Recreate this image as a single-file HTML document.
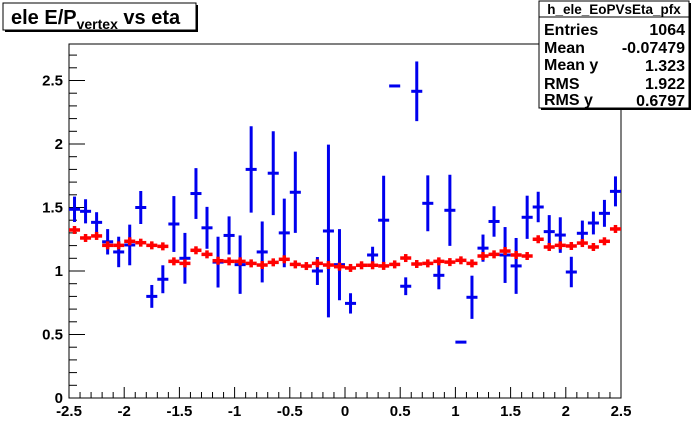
<!DOCTYPE html>
<html><head><meta charset="utf-8"><style>
body{margin:0;background:#fff;}
svg{display:block;font-family:"Liberation Sans",Arial,sans-serif;}
</style></head><body>
<svg id="chart" width="692" height="444" viewBox="0 0 692 444" xmlns="http://www.w3.org/2000/svg">
<rect x="0" y="0" width="692" height="444" fill="#fff"/>
<g id="axes"></g>
<g id="blue"></g>
<g id="red"></g>
<g>
<rect x="5" y="5" width="193" height="27" fill="#000"/>
<rect x="3" y="3" width="193" height="27" fill="#fff" stroke="#000" stroke-width="1"/>
<text x="11" y="24" font-size="20" font-weight="bold">ele E/P<tspan font-size="14" dy="5">vertex</tspan><tspan dy="-5"> vs eta</tspan></text>
</g>
<g>
<rect x="541" y="3" width="150" height="107" fill="#000"/>
<rect x="539" y="1" width="150" height="107" fill="#fff" stroke="#000" stroke-width="1"/>
<line x1="539" y1="17" x2="689" y2="17" stroke="#000"/>
<text x="614" y="14" font-size="13.5" font-weight="bold" text-anchor="middle">h_ele_EoPVsEta_pfx</text>
<g font-size="16" font-weight="bold">
<text x="544" y="35">Entries</text><text x="685" y="35" text-anchor="end">1064</text>
<text x="544" y="53">Mean</text><text x="685" y="53" text-anchor="end">-0.07479</text>
<text x="544" y="70">Mean y</text><text x="685" y="71" text-anchor="end">1.323</text>
<text x="544" y="89">RMS</text><text x="685" y="89" text-anchor="end">1.922</text>
<text x="544" y="105">RMS y</text><text x="685" y="106" text-anchor="end">0.6797</text>
</g>
</g>
</svg>
<script>
const blueVals=[1.486,1.47,1.383,1.23,1.15,1.205,1.5,0.8,0.935,1.37,1.1,1.61,1.34,1.07,1.28,1.05,1.8,1.15,1.77,1.3,1.62,null,1.0,1.315,1.05,0.745,null,1.126,1.4,2.457,0.88,2.415,1.533,0.966,1.478,0.44,0.793,1.18,1.39,1.126,1.04,1.423,1.504,1.31,1.283,0.992,1.297,1.378,1.454,1.627];
const blueErrs=[0.1,0.095,0.08,0.1,0.12,0.16,0.13,0.09,0.11,0.22,0.2,0.2,0.165,0.2,0.15,0.23,0.34,0.24,0.33,0.27,0.32,0,0.11,0.68,0.28,0.08,0,0.065,0.35,0,0.07,0.235,0.22,0.11,0.28,0,0.17,0.107,0.12,0.22,0.22,0.17,0.12,0.13,0.14,0.12,0.1,0.09,0.106,0.118];
const redVals=[1.323,1.26,1.276,1.202,1.202,1.234,1.223,1.202,1.194,1.076,1.06,1.163,1.131,1.081,1.076,1.076,1.06,1.047,1.068,1.092,1.052,1.039,1.06,1.047,1.034,1.024,1.045,1.045,1.04,1.052,1.102,1.055,1.06,1.076,1.07,1.084,1.06,1.118,1.131,1.157,1.126,1.118,1.25,1.189,1.202,1.197,1.22,1.189,1.234,1.331];
const xTicks=[-2.5,-2,-1.5,-1,-0.5,0,0.5,1,1.5,2,2.5];
const xTickLabels=["-2.5","-2","-1.5","-1","-0.5","0","0.5","1","1.5","2","2.5"];
const yTicks=[0,0.5,1,1.5,2,2.5];
const yTickLabels=["0","0.5","1","1.5","2","2.5"];
const X0=69,X1=621,Y0=398,Y1=44,xmin=-2.5,xmax=2.5,ymin=0,ymax=(398-44)/127;
const NS="http://www.w3.org/2000/svg";
function sx(v){return X0+(v-xmin)/(xmax-xmin)*(X1-X0);}
function sy(v){return Y0-(v-ymin)/(ymax-ymin)*(Y0-Y1);}
function mk(tag,attrs,parent){const e=document.createElementNS(NS,tag);for(const k in attrs)e.setAttribute(k,attrs[k]);parent.appendChild(e);return e;}
const axes=document.getElementById('axes');
const fr=mk('rect',{x:X0,y:Y1,width:X1-X0,height:Y0-Y1,fill:'none',stroke:'#000','stroke-width':1},axes);


for(let i=0;i<=50;i++){const v=-2.5+i*0.1;const x=sx(v);const major=i%5===0;
 const t=mk('line',{x1:x,y1:Y0,x2:x,y2:Y0-(major?11:6),stroke:'#000'},axes);
 
 }
for(let i=0;i<=27;i++){const v=i*0.1;const y=sy(v);const major=i%5===0;
 const t=mk('line',{x1:X0,y1:y,x2:X0+(major?16:8),y2:y,stroke:'#000'},axes);
 
 }
xTicks.forEach((v,i)=>{const t=mk('text',{x:sx(v),y:416,'font-size':15,'font-weight':'bold','text-anchor':'middle'},axes);t.textContent=xTickLabels[i];
 
 });
yTicks.forEach((v,i)=>{const t=mk('text',{x:63,y:sy(v)+5,'font-size':15,'font-weight':'bold','text-anchor':'end'},axes);t.textContent=yTickLabels[i];
 
 });
const bw=0.1;
const bg=document.getElementById('blue');
blueVals.forEach((v,i)=>{if(v===null)return;const c=-2.5+bw*(i+0.5);
 const g=mk('g',{},bg);
 
 
 mk('line',{x1:sx(c-bw/2),x2:sx(c+bw/2),y1:sy(v),y2:sy(v),stroke:'#0000ee','stroke-width':3},g);
 if(blueErrs[i]>0)mk('line',{x1:sx(c),x2:sx(c),y1:sy(v-blueErrs[i]),y2:sy(v+blueErrs[i]),stroke:'#0000ee','stroke-width':3},g);});
const rg=document.getElementById('red');
redVals.forEach((v,i)=>{const c=-2.5+bw*(i+0.5);
 const g=mk('g',{},rg);
 
 
 mk('line',{x1:sx(c-bw/2),x2:sx(c+bw/2),y1:sy(v),y2:sy(v),stroke:'#ff0000','stroke-width':3.5},g);
 mk('line',{x1:sx(c),x2:sx(c),y1:sy(v)-4,y2:sy(v)+4,stroke:'#ff0000','stroke-width':3.5},g);});
</script>
</body></html>
